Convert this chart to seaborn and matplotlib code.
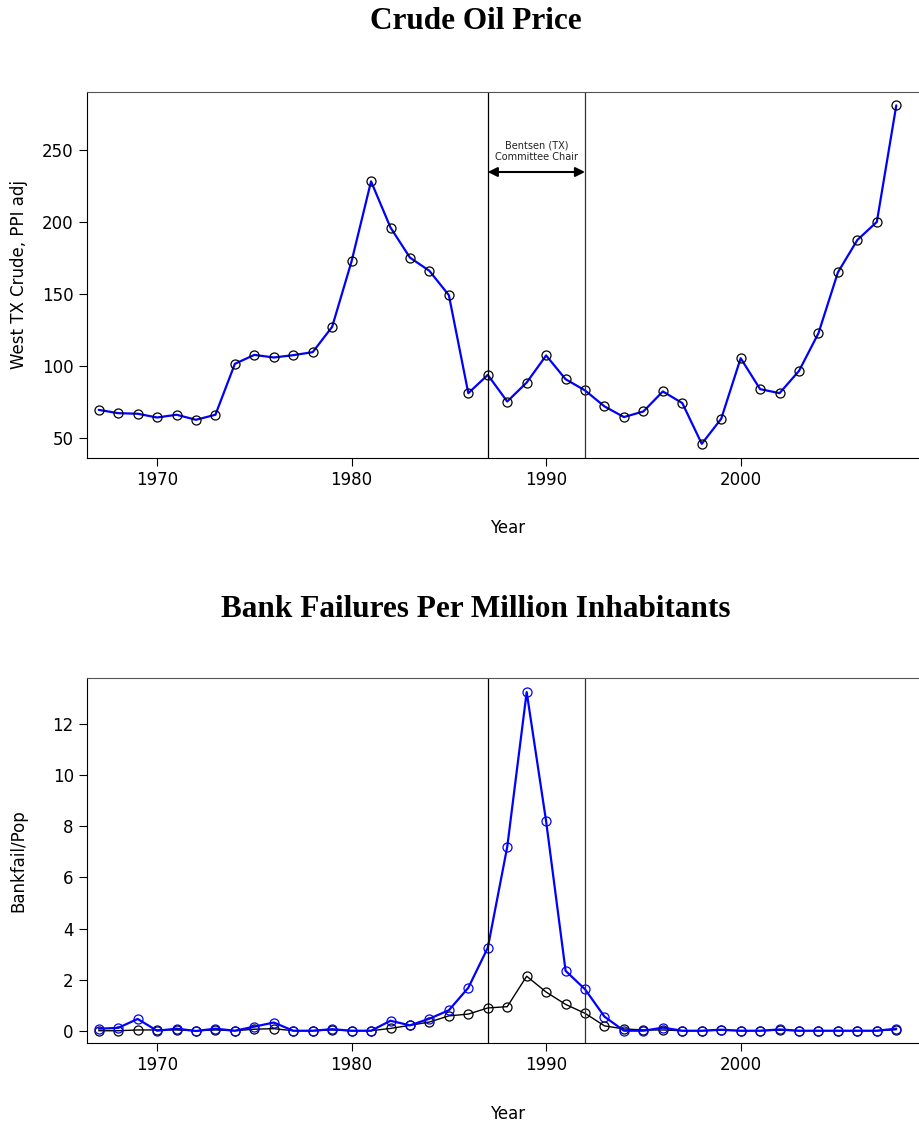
import matplotlib
matplotlib.use("Agg")
import matplotlib.pyplot as plt
import seaborn as sns
import pandas as pd

# data
years = list(range(1967, 2009))
oil_price = [69.4, 67.1, 66.7, 64.1, 66.0, 62.5, 66.0, 101.4, 107.6, 105.8,
             107.4, 109.5, 127.1, 172.7, 228.2, 196.1, 175.2, 166.0, 149.1, 81.0,
             93.7, 75.2, 88.4, 107.2, 90.7, 82.9, 71.8, 64.4, 68.3, 82.2,
             74.1, 45.8, 63.2, 105.3, 83.8, 81.0, 96.5, 122.7, 165.0, 187.5,
             200.0, 281.0]
bankfail_blue = [0.09, 0.12, 0.47, 0.01, 0.09, 0.0, 0.09, 0.01, 0.17, 0.33,
                 0.01, 0.01, 0.07, 0.01, 0.01, 0.40, 0.22, 0.48, 0.81, 1.69,
                 3.25, 7.19, 13.24, 8.19, 2.35, 1.63, 0.56, 0.01, 0.01, 0.13,
                 0.01, 0.01, 0.05, 0.01, 0.01, 0.06, 0.01, 0.01, 0.01, 0.01,
                 0.01, 0.09]
bankfail_black = [0.01, 0.01, 0.04, 0.04, 0.04, 0.01, 0.04, 0.01, 0.07, 0.09,
                  0.01, 0.01, 0.04, 0.01, 0.01, 0.10, 0.22, 0.35, 0.59, 0.66,
                  0.90, 0.95, 2.14, 1.52, 1.04, 0.69, 0.20, 0.08, 0.04, 0.04,
                  0.01, 0.01, 0.03, 0.01, 0.01, 0.03, 0.01, 0.01, 0.01, 0.01,
                  0.01, 0.05]
chair_start, chair_end = 1987, 1992

df = pd.DataFrame({"Year": years, "oil": oil_price,
                   "bank_blue": bankfail_blue, "bank_black": bankfail_black})

sns.set_style("white")
plt.rcParams['font.family'] = ['DejaVu Sans']
plt.rcParams['text.color'] = 'black'
plt.rcParams['axes.labelcolor'] = 'black'

fig = plt.figure(figsize=(9.2, 11.22), dpi=100)
ax1 = fig.add_axes([0.0946, 0.592, 0.905, 0.326])
ax2 = fig.add_axes([0.0946, 0.0704, 0.905, 0.3253])

title_font = dict(family='Liberation Serif', weight='bold', size=22.5, color='black')

# 1. Crude oil price
sns.lineplot(data=df, x="Year", y="oil", ax=ax1, color="#0000ff", linewidth=1.6,
             marker="o", markersize=6.5, markerfacecolor="none",
             markeredgecolor="black", markeredgewidth=0.9)
ax1.set_xlim(1966.4, 2009.2)
ax1.set_ylim(36.1, 290.3)
ax1.set_yticks([50, 100, 150, 200, 250])
ax1.set_xticks([1970, 1980, 1990, 2000])
ax1.set_ylabel("West TX Crude, PPI adj", fontsize=12, labelpad=10)
ax1.set_xlabel("Year", fontsize=12)
ax1.xaxis.set_label_coords(0.505, -0.167)
fig.text(0.517, 0.981, "Crude Oil Price", ha='center', va='center', **title_font)
ax1.axvline(chair_start, color='black', linewidth=0.9)
ax1.axvline(chair_end, color='#333333', linewidth=0.9)
ax1.annotate("", xy=(chair_start, 234.7), xytext=(chair_end, 234.7),
             arrowprops=dict(arrowstyle="<|-|>", color="black", lw=1.5,
                             mutation_scale=14, shrinkA=0, shrinkB=0))
ax1.text((chair_start + chair_end) / 2, 242, "Bentsen (TX)\nCommittee Chair",
         ha='center', va='bottom', fontsize=7, color='#222222', linespacing=1.1)

# 2. Bank failures
sns.lineplot(data=df, x="Year", y="bank_black", ax=ax2, color="black", linewidth=1.0,
             marker="o", markersize=6.5, markerfacecolor="none",
             markeredgecolor="black", markeredgewidth=0.9)
sns.lineplot(data=df, x="Year", y="bank_blue", ax=ax2, color="#0000ff", linewidth=1.6,
             marker="o", markersize=6.5, markerfacecolor="none",
             markeredgecolor="#0000ff", markeredgewidth=0.9)
ax2.set_xlim(1966.4, 2009.2)
ax2.set_ylim(-0.47, 13.79)
ax2.set_yticks([0, 2, 4, 6, 8, 10, 12])
ax2.set_xticks([1970, 1980, 1990, 2000])
ax2.set_ylabel("Bankfail/Pop", fontsize=12, labelpad=18)
ax2.set_xlabel("Year", fontsize=12)
ax2.xaxis.set_label_coords(0.505, -0.170)
fig.text(0.517, 0.457, "Bank Failures Per Million Inhabitants", ha='center',
         va='center', **title_font)
ax2.axvline(chair_start, color='black', linewidth=0.9)
ax2.axvline(chair_end, color='#333333', linewidth=0.9)

for ax in (ax1, ax2):
    ax.tick_params(axis='both', direction='out', length=6, width=0.8,
                   labelsize=12, bottom=True, left=True, colors='black')
    for side in ax.spines:
        ax.spines[side].set_color('black')
        ax.spines[side].set_linewidth(0.8)
    ax.spines['top'].set_color('#555555')

plt.savefig("out.png", dpi=100)
plt.close()
